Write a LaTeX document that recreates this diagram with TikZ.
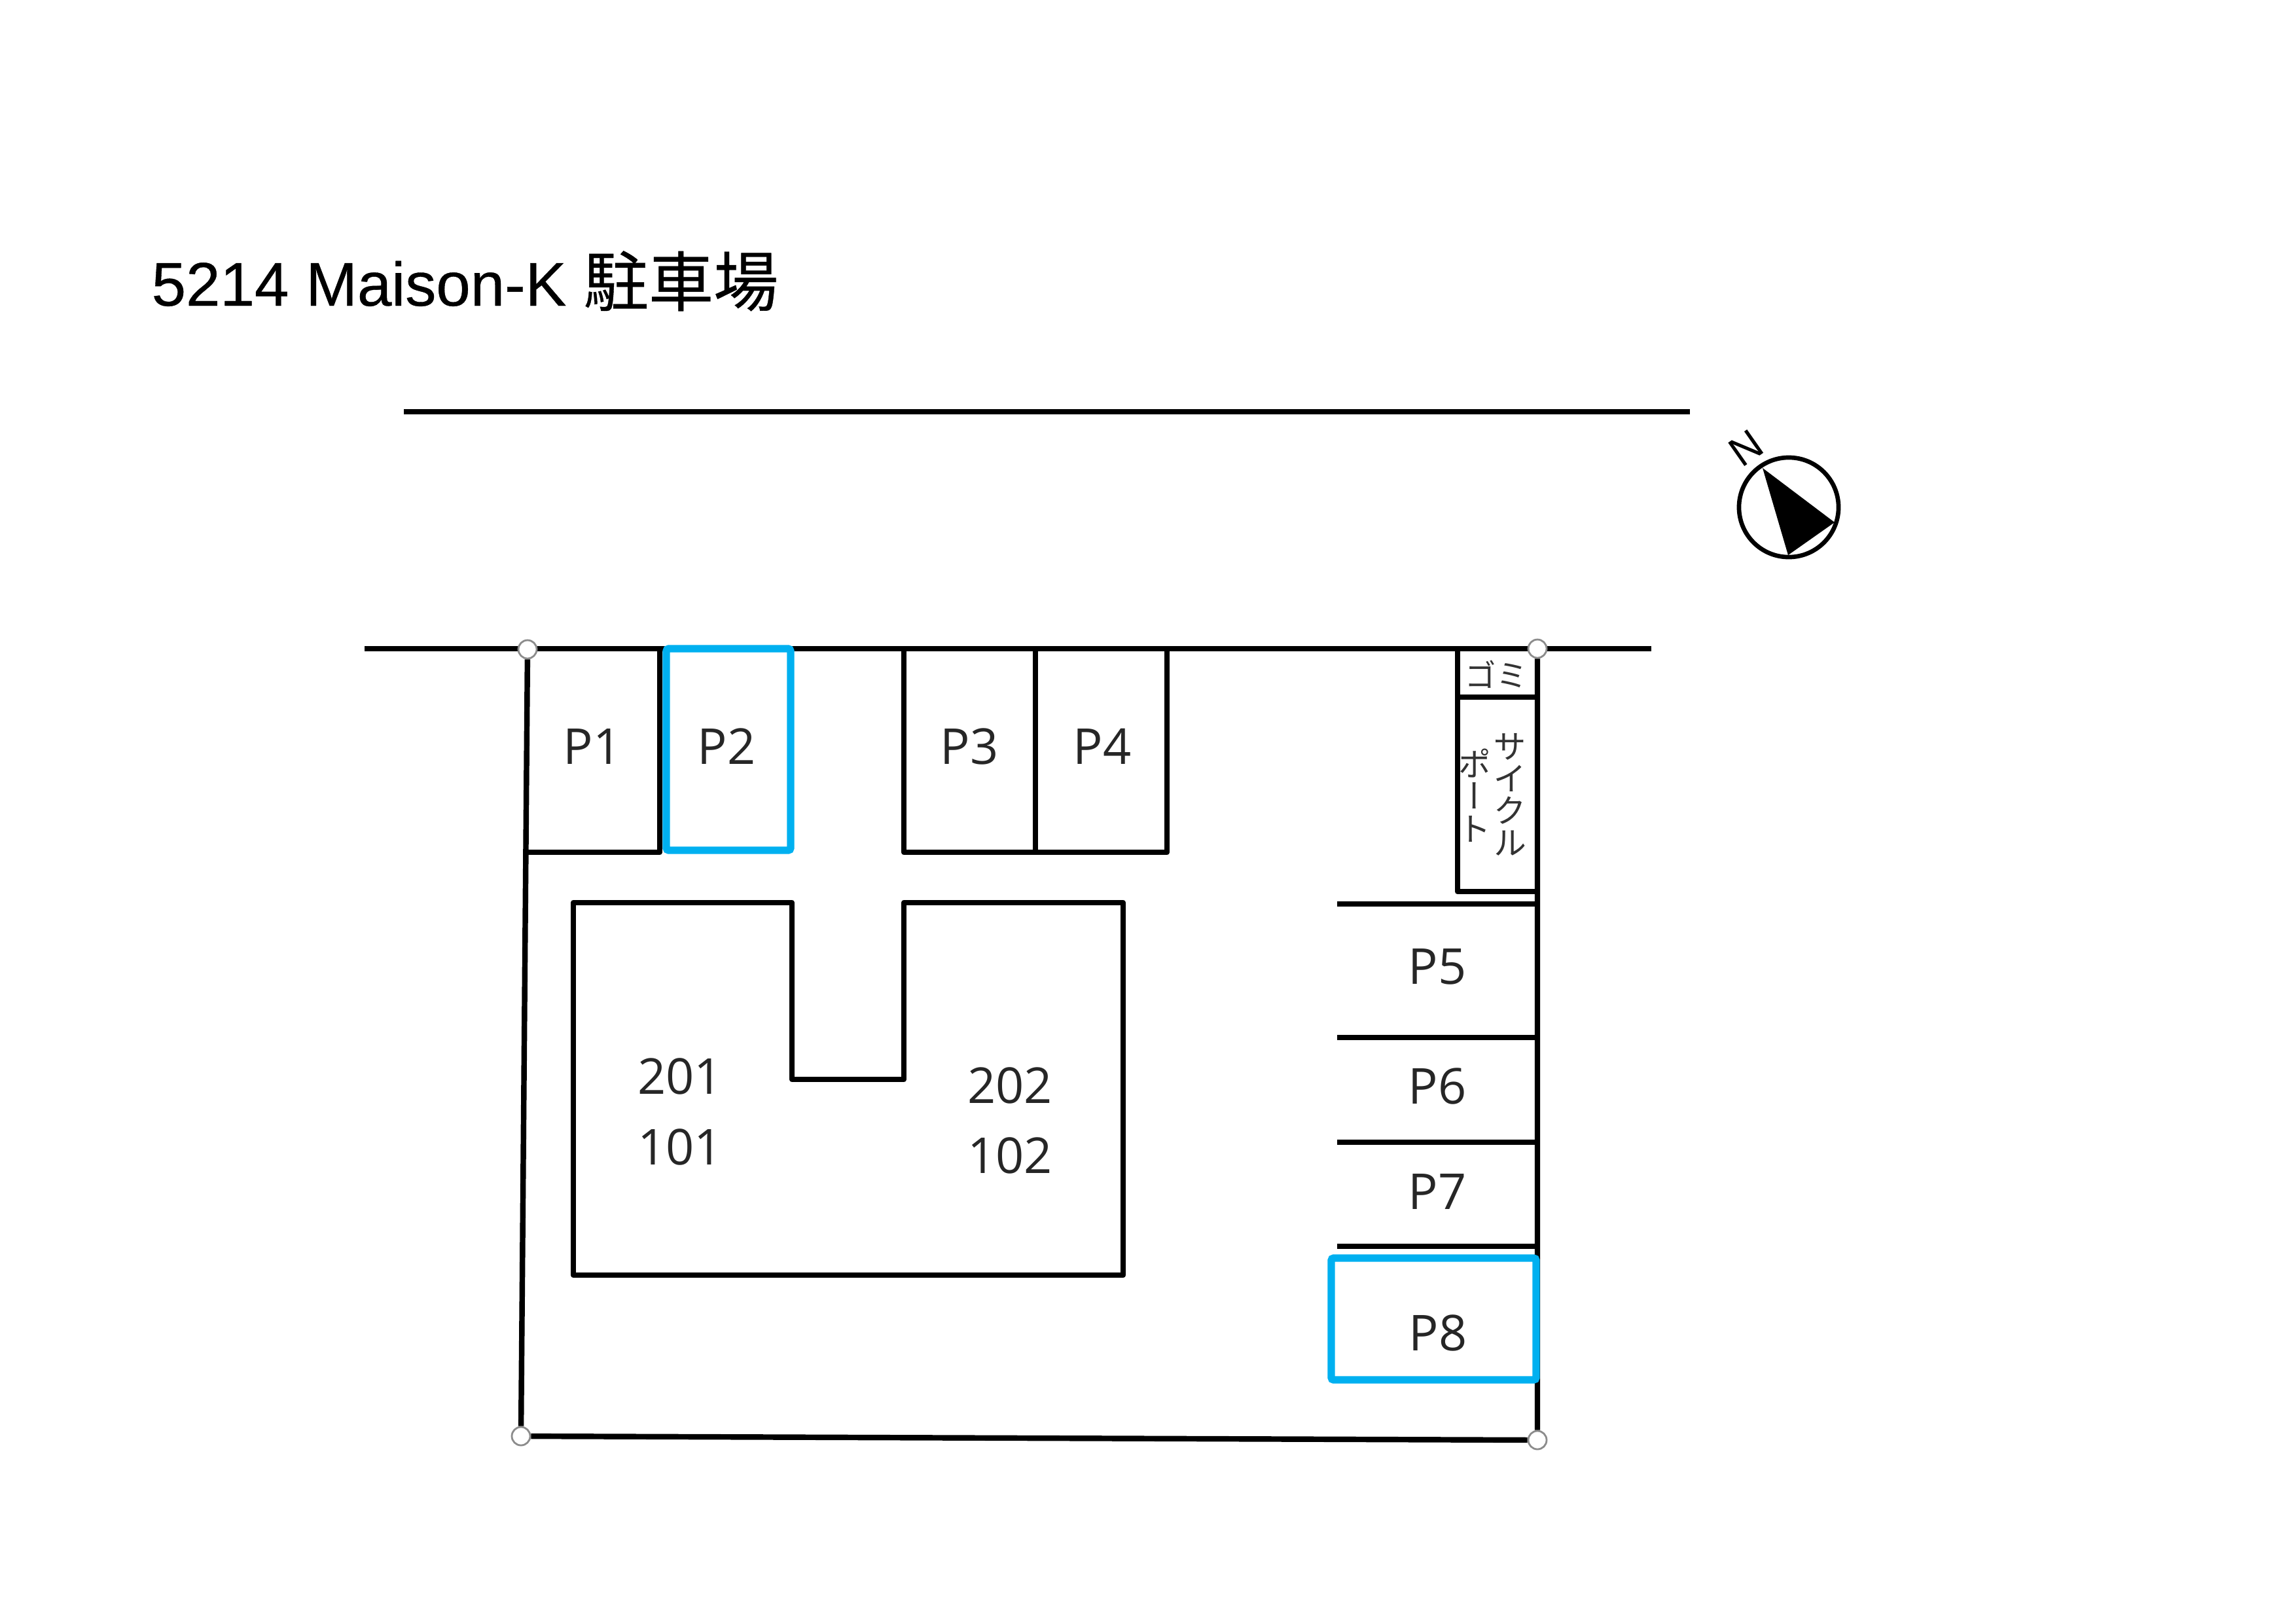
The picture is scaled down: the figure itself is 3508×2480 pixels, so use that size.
\documentclass[tikz,border=0pt]{standalone}
\usepackage{fontspec}
\setmainfont{Open Sans}
\newfontfamily\titlefont[FakeBold=0.4]{Liberation Sans}
\newfontfamily\northfont{Liberation Sans}
\newfontfamily\cjk{Noto Sans CJK JP}
\newfontfamily\cjkbold[FakeBold=0.4]{Noto Sans CJK JP}
\newfontfamily\cjkv[RawFeature=+vert]{Noto Sans CJK JP}
\definecolor{picked}{HTML}{00B0F0}

\begin{document}
\begin{tikzpicture}[x=0.01cm, y=-0.01cm]
   \tikzstyle{wall}=[draw=black, line width=2.4pt, line join=round]
   \tikzstyle{picked bay}=[draw=picked, line width=3.2pt, rounded corners=1pt]
   \tikzstyle{post}=[draw=black!45, fill=white, circle, line width=0.8pt, inner sep=0pt, minimum size=0.28cm]
   \tikzstyle{lot}=[inner sep=0pt, text=black!85, font=\fontsize{21.5}{26}\selectfont]
   \tikzstyle{kana}=[inner sep=0pt, text=black!80, align=center]

\useasboundingbox (0,0) rectangle (3508,2480);

\node[inner sep=0pt, anchor=base west] (title) at (231,467) {\fontsize{26.8}{32}\selectfont\titlefont 5214 Maison-K \cjkbold\fontsize{28.2}{32}\selectfont 駐車場};

\coordinate (road a) at (617,629);
\coordinate (road b) at (2582,629);
\coordinate (line a) at (557,991);
\coordinate (line b) at (2523,991);
\draw[wall] (road a) -- (road b);
\draw[wall] (line a) -- (line b);

\node[post] (nw) at (806,992) {};
\node[post] (ne) at (2349,991) {};
\node[post] (sw) at (796,2194) {};
\node[post] (se) at (2349,2200) {};
\draw[wall] (nw) -- (sw) -- (se) -- (ne);

\draw[wall] (1008,991) -- (1008,1302) -- (801,1302);
\draw[wall] (1381,991) -- (1381,1302) -- (1783,1302) -- (1783,991);
\draw[wall] (1582,991) -- (1582,1302);
\draw[wall] (876,1379) -- (1210,1379) -- (1210,1649) -- (1381,1649) -- (1381,1379) -- (1716,1379) -- (1716,1948) -- (876,1948) -- cycle;

\draw[wall] (2227,991) -- (2227,1362) -- (2349,1362);
\draw[wall] (2227,1065) -- (2349,1065);
\foreach \ypos in {1381,1585,1745,1904}
   \draw[wall] (2043,\ypos) -- (2349,\ypos);

\draw[picked bay] (1018,991) rectangle (1208,1299);
\draw[picked bay] (2034,1922) rectangle (2347,2108);

\node[lot] (p1) at (905,1140) {P1};
\node[lot] (p2) at (1110,1140) {P2};
\node[lot] (p3) at (1481,1140) {P3};
\node[lot] (p4) at (1684,1140) {P4};
\node[lot] (p5) at (2196,1477) {P5};
\node[lot] (p6) at (2196,1659) {P6};
\node[lot] (p7) at (2196,1820) {P7};
\node[lot] (p8) at (2197,2036) {P8};
\node[lot] (r201) at (1039,1644) {201};
\node[lot] (r101) at (1039,1752) {101};
\node[lot] (r202) at (1543,1658) {202};
\node[lot] (r102) at (1543,1765) {102};

\node[kana, font=\cjk\fontsize{13.5}{15}\selectfont] (gomi) at (2286,1030) {ゴミ};
\node[kana, font=\cjkv\fontsize{14.5}{14}\selectfont] (cycle) at (2307,1214) {サ\\イ\\ク\\ル};
\node[kana, font=\cjkv\fontsize{14.5}{14}\selectfont] (port) at (2253,1215) {ポ\\ー\\ト};

\node[draw=black, line width=1.9pt, circle, inner sep=0pt, minimum size=1.52cm] (compass) at (2733,775) {};
\fill[black] (2693,715) -- (2803,798) -- (2732,848) -- cycle;
\node[inner sep=0pt, rotate=35, font=\northfont\fontsize{18}{20}\selectfont] (north) at (2668,685) {N};
\end{tikzpicture}
\end{document}
